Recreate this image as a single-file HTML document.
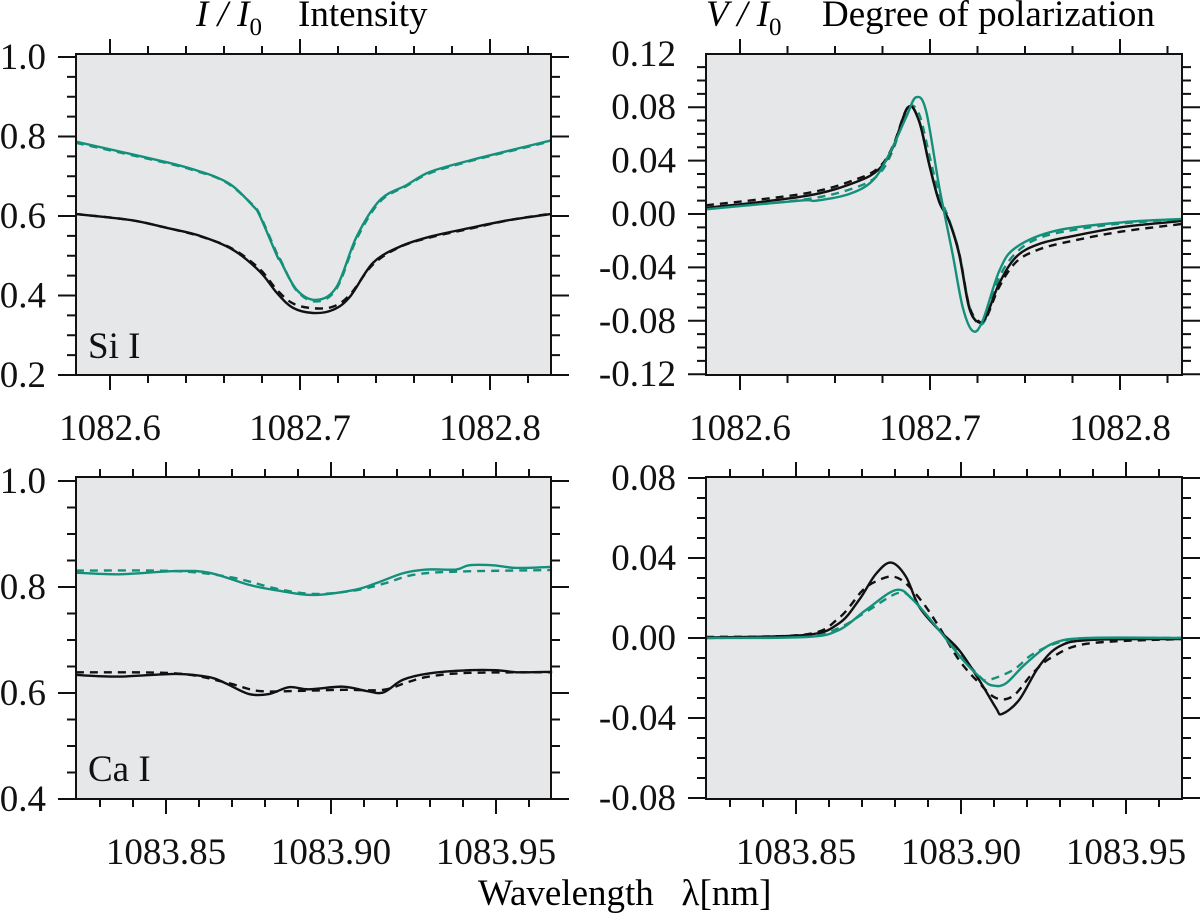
<!DOCTYPE html>
<html><head><meta charset="utf-8"><style>
html,body{margin:0;padding:0;background:#fff;}
svg, svg text{font-family:"Liberation Serif","Times New Roman",serif;}
</style></head><body>
<svg id="fig" width="1200" height="913" viewBox="0 0 1200 913" xmlns="http://www.w3.org/2000/svg" font-family="Liberation Serif, serif">
<text x="196" y="26" font-size="37" font-family="Liberation Serif, serif" font-style="italic">I / I<tspan font-size="25" dy="9" font-style="normal">0</tspan></text>
<text x="298" y="26" font-size="37" font-family="Liberation Serif, serif">Intensity</text>
<text x="706" y="26" font-size="37" font-family="Liberation Serif, serif" font-style="italic">V / I<tspan font-size="25" dy="9" font-style="normal">0</tspan></text>
<text x="822" y="26" font-size="37" font-family="Liberation Serif, serif">Degree of polarization</text>
<text x="478" y="905" font-size="37" font-family="Liberation Serif, serif" xml:space="preserve">Wavelength   λ[nm]</text>
<g id="plots"></g>
</svg>
<script>
// ---- Si I intensity (top-left) ----
const siI_wl_green = [1082.5821,1082.6300,1082.6474,1082.6563,1082.6647,1082.6753,1082.6789,1082.6879,1082.6895,1082.6983,1082.7088,1082.7193,1082.7298,1082.7421,1082.7562,1082.7684,1082.7895,1082.8105,1082.8321];
const siI_obs_green = [0.787,0.735,0.712,0.697,0.675,0.625,0.600,0.500,0.489,0.414,0.389,0.422,0.548,0.640,0.678,0.711,0.740,0.765,0.790];
const siI_fit_green = [0.784,0.733,0.710,0.696,0.673,0.627,0.603,0.505,0.492,0.412,0.385,0.418,0.542,0.636,0.676,0.708,0.738,0.763,0.788];
const siI_wl_black = [1082.5821,1082.6105,1082.6300,1082.6474,1082.6647,1082.6789,1082.6879,1082.6963,1082.7068,1082.7174,1082.7263,1082.7384,1082.7526,1082.7684,1082.7895,1082.8105,1082.8321];
const siI_obs_black = [0.605,0.590,0.570,0.550,0.515,0.460,0.406,0.369,0.356,0.364,0.397,0.482,0.523,0.548,0.570,0.590,0.605];
const siI_fit_black = [0.605,0.590,0.570,0.549,0.517,0.466,0.414,0.380,0.368,0.372,0.402,0.478,0.522,0.546,0.568,0.590,0.606];
// ---- Si I polarization (top-right) ----
const siV_wl_black = [1082.5821,1082.6347,1082.6611,1082.6732,1082.6805,1082.6884,1082.6942,1082.6995,1082.7047,1082.7100,1082.7153,1082.7205,1082.7253,1082.7295,1082.7363,1082.7453,1082.7574,1082.7753,1082.8016,1082.8326];
const siV_obs_black = [0.0045,0.0135,0.024,0.0337,0.050,0.080,0.0697,0.0375,0.0097,-0.0052,-0.030,-0.0697,-0.081,-0.077,-0.0524,-0.0322,-0.0225,-0.0165,-0.0097,-0.0052];
const siV_fit_black = [0.0065,0.0155,0.026,0.035,0.051,0.080,0.070,0.038,0.010,-0.005,-0.029,-0.068,-0.080,-0.078,-0.055,-0.036,-0.0265,-0.020,-0.013,-0.0075];
const siV_fit_green = [0.004,0.011,0.020,0.030,0.048,0.079,0.075,0.045,0.015,-0.004,-0.029,-0.068,-0.082,-0.078,-0.048,-0.029,-0.018,-0.012,-0.007,-0.004];
const siV_wl_green = [1082.5821,1082.6312,1082.6400,1082.6575,1082.6698,1082.6786,1082.6874,1082.6926,1082.6979,1082.7049,1082.7119,1082.7172,1082.7225,1082.7277,1082.7365,1082.7453,1082.7663,1082.8014,1082.8326];
const siV_obs_green = [0.0035,0.010,0.010,0.015,0.025,0.045,0.0724,0.0874,0.0774,0.020,-0.030,-0.0697,-0.0876,-0.080,-0.0425,-0.025,-0.0125,-0.0062,-0.0037];
// ---- Ca I intensity (bottom-left) ----
const caI_wl_gobs = [1083.8227,1083.8358,1083.8530,1083.8630,1083.8752,1083.8833,1083.8945,1083.9067,1083.9136,1083.9218,1083.9288,1083.9379,1083.9418,1083.9491,1083.9561,1083.9670];
const caI_obs_green = [0.827,0.824,0.830,0.827,0.804,0.794,0.785,0.794,0.807,0.826,0.833,0.833,0.841,0.841,0.836,0.838];
const caI_wl_gfit = [1083.8227,1083.8530,1083.8700,1083.8833,1083.8945,1083.9067,1083.9158,1083.9250,1083.9379,1083.9670];
const caI_fit_green = [0.831,0.830,0.818,0.797,0.787,0.793,0.806,0.823,0.829,0.832];
const caI_wl_bobs = [1083.8227,1083.8358,1083.8530,1083.8630,1083.8682,1083.8752,1083.8812,1083.8873,1083.8933,1083.9036,1083.9106,1083.9158,1083.9218,1083.9297,1083.9418,1083.9500,1083.9570,1083.9670];
const caI_obs_black = [0.634,0.631,0.636,0.630,0.618,0.598,0.598,0.611,0.607,0.612,0.604,0.601,0.625,0.637,0.643,0.643,0.639,0.640];
const caI_wl_bfit = [1083.8227,1083.8530,1083.8680,1083.8780,1083.8900,1083.9036,1083.9158,1083.9230,1083.9297,1083.9418,1083.9670];
const caI_fit_black = [0.639,0.637,0.620,0.604,0.604,0.606,0.606,0.620,0.631,0.638,0.639];
// ---- Ca I polarization (bottom-right) ----
const caV_wl_bobs = [1083.8227,1083.8530,1083.8630,1083.8691,1083.8742,1083.8788,1083.8833,1083.8873,1083.8933,1083.8994,1083.9055,1083.9106,1083.9124,1083.9176,1083.9236,1083.9297,1083.9388,1083.9670];
const caV_obs_black = [0.0003,0.0015,0.0073,0.019,0.032,0.0377,0.0307,0.0157,0.004,-0.006,-0.021,-0.035,-0.038,-0.031,-0.0143,-0.0043,-0.001,-0.0005];
const caV_wl_bfit = [1083.8227,1083.8530,1083.8630,1083.8703,1083.8752,1083.8794,1083.8833,1083.8885,1083.8933,1083.8994,1083.9055,1083.9106,1083.9158,1083.9218,1083.9279,1083.9388,1083.9670];
const caV_fit_black = [0.0005,0.0018,0.010,0.024,0.029,0.0307,0.0273,0.0175,0.0057,-0.011,-0.0225,-0.030,-0.029,-0.0175,-0.0093,-0.0027,-0.0005];
const caV_wl_gobs = [1083.8227,1083.8530,1083.8630,1083.8712,1083.8803,1083.8855,1083.8933,1083.9006,1083.9067,1083.9097,1083.9136,1083.9197,1083.9279,1083.9388,1083.9670];
const caV_obs_green = [0,0.0005,0.004,0.014,0.024,0.019,0.004,-0.011,-0.021,-0.0238,-0.0227,-0.0127,-0.0027,0,0];
const caV_wl_gfit = [1083.8227,1083.8530,1083.8630,1083.8712,1083.8809,1083.8855,1083.8933,1083.9006,1083.9055,1083.9082,1083.9158,1083.9218,1083.9300,1083.9388,1083.9670];
const caV_fit_green = [0,0.0008,0.005,0.013,0.0225,0.019,0.004,-0.010,-0.019,-0.021,-0.016,-0.008,-0.002,0,0];
// tick labels
const topXTicks = [1082.6,1082.7,1082.8];
const botXTicks = [1083.85,1083.90,1083.95];
const intTicksTop = [0.2,0.4,0.6,0.8,1.0];
const intTicksBot = [0.4,0.6,0.8,1.0];
const siVTicks = [-0.12,-0.08,-0.04,0.00,0.04,0.08,0.12];
const caVTicks = [-0.08,-0.04,0.00,0.04,0.08];

const NS = "http://www.w3.org/2000/svg";
const root = document.getElementById('plots');
const GREEN = "#14907a";
const FONT = "Liberation Serif, serif";
function mk(tag, attrs, parent){const e=document.createElementNS(NS,tag);for(const k in attrs)e.setAttribute(k,attrs[k]);(parent||root).appendChild(e);return e;}

function panel(name, box, xr, yr, xMinor, yMinor, xT, yT, xFmt, yFmt){
  const g = mk('g',{});
  
  
  const bg = mk('rect',{x:box[0],y:box[1],width:box[2]-box[0],height:box[3]-box[1],fill:'#e6e7e9'},g);
  
  
  const X = v => xr.p0 + (v - xr.v0) * xr.s;
  const Y = v => yr.p0 - (v - yr.v0) * yr.s;
  let d = '';
  const xstep = xT[1]-xT[0];
  const xlo = xr.v0 + (box[0]-xr.p0)/xr.s, xhi = xr.v0 + (box[2]-xr.p0)/xr.s;
  for (let k = Math.ceil(xlo/xMinor-1e-6); k*xMinor <= xhi+1e-9; k++){
    const v = k*xMinor, px = X(v);
    const major = Math.abs(Math.round(v/xstep)*xstep - v) < 1e-6;
    const L = major ? 15 : 8;
    d += `M${px},${box[3]}v${L}M${px},${box[1]}v${-L}`;
  }
  const ylo = yr.v0 + (yr.p0-box[3])/yr.s, yhi = yr.v0 + (yr.p0-box[1])/yr.s;
  const ystep = yT[1]-yT[0];
  for (let k = Math.ceil(ylo/yMinor-1e-6); k*yMinor <= yhi+1e-9; k++){
    const v = k*yMinor, py = Y(v);
    const major = Math.abs(Math.round(v/ystep)*ystep - v) < 1e-6;
    const L = major ? 18 : 9;
    d += `M${box[0]},${py}h${-L}M${box[2]},${py}h${L}`;
  }
  const tk = mk('path',{d:d,stroke:'#111','stroke-width':2,fill:'none'},g);
  
  
  xT.forEach(v => {
    const t = mk('text',{x:X(v),y:box[3]+65,'font-size':37,'font-family':FONT,'text-anchor':'middle',fill:'#111'},g);
    t.textContent = xFmt(v);
    
    
  });
  yT.forEach(v => {
    const t = mk('text',{x:box[0]-30,y:Y(v)+12,'font-size':37,'font-family':FONT,'text-anchor':'end',fill:'#111'},g);
    t.textContent = yFmt(v);
    
    
  });
  return {g, X, Y, box};
}

function curve(P, wl, vals, color, dashed, name){
  const pts = wl.map((w,i)=>[P.X(w), P.Y(vals[i])]);
  let d = `M${pts[0][0].toFixed(2)},${pts[0][1].toFixed(2)}`;
  for (let i=0;i<pts.length-1;i++){
    const p0=pts[Math.max(0,i-1)], p1=pts[i], p2=pts[i+1], p3=pts[Math.min(pts.length-1,i+2)];
    const c1=[p1[0]+(p2[0]-p0[0])/6, p1[1]+(p2[1]-p0[1])/6];
    const c2=[p2[0]-(p3[0]-p1[0])/6, p2[1]-(p3[1]-p1[1])/6];
    d += `C${c1[0].toFixed(2)},${c1[1].toFixed(2)} ${c2[0].toFixed(2)},${c2[1].toFixed(2)} ${p2[0].toFixed(2)},${p2[1].toFixed(2)}`;
  }
  const a = {d:d, fill:'none', stroke:color, 'stroke-width':2.4, 'stroke-linejoin':'round'};
  if (dashed) a['stroke-dasharray'] = '8 6';
  const e = mk('path', a, P.g);
  
  
}
function frame(P, name){
  const b=P.box;
  const e = mk('rect',{x:b[0],y:b[1],width:b[2]-b[0],height:b[3]-b[1],fill:'none',stroke:'#111','stroke-width':2},P.g);
  
  
}
const f1 = v => v.toFixed(1), f2 = v => v.toFixed(2);

const TL = panel('si-intensity-panel',[76,54,551,375],{p0:110,v0:1082.6,s:1900},{p0:57,v0:1.0,s:397.5},0.02,0.05,topXTicks,intTicksTop,f1,f1);
curve(TL, siI_wl_green, siI_fit_green, GREEN, true, 'si-intensity-green-fit');
curve(TL, siI_wl_green, siI_obs_green, GREEN, false, 'si-intensity-green-observed');
curve(TL, siI_wl_black, siI_fit_black, '#111', true, 'si-intensity-black-fit');
curve(TL, siI_wl_black, siI_obs_black, '#111', false, 'si-intensity-black-observed');
frame(TL,'si-intensity');
let lab = mk('text',{x:88,y:358,'font-size':37,'font-family':FONT,fill:'#111'},TL.g); lab.textContent='Si I';



const TR = panel('si-polarization-panel',[706,54,1182,375],{p0:740,v0:1082.6,s:1900},{p0:214,v0:0,s:1335},0.025,0.01,topXTicks,siVTicks,f1,f2);
curve(TR, siV_wl_black, siV_fit_black, '#111', true, 'si-polarization-black-fit');
curve(TR, siV_wl_black, siV_fit_green, GREEN, true, 'si-polarization-green-fit');
curve(TR, siV_wl_black, siV_obs_black, '#111', false, 'si-polarization-black-observed');
curve(TR, siV_wl_green, siV_obs_green, GREEN, false, 'si-polarization-green-observed');
frame(TR,'si-polarization');

const BL = panel('ca-intensity-panel',[76,477,551,799],{p0:166,v0:1083.85,s:3300},{p0:481,v0:1.0,s:530},0.01,0.05,botXTicks,intTicksBot,f2,f1);
curve(BL, caI_wl_gfit, caI_fit_green, GREEN, true, 'ca-intensity-green-fit');
curve(BL, caI_wl_gobs, caI_obs_green, GREEN, false, 'ca-intensity-green-observed');
curve(BL, caI_wl_bfit, caI_fit_black, '#111', true, 'ca-intensity-black-fit');
curve(BL, caI_wl_bobs, caI_obs_black, '#111', false, 'ca-intensity-black-observed');
frame(BL,'ca-intensity');
lab = mk('text',{x:88,y:781,'font-size':37,'font-family':FONT,fill:'#111'},BL.g); lab.textContent='Ca I';



const BR = panel('ca-polarization-panel',[706,477,1182,799],{p0:796,v0:1083.85,s:3300},{p0:638,v0:0,s:2000},0.01,0.01,botXTicks,caVTicks,f2,f2);
curve(BR, caV_wl_bfit, caV_fit_black, '#111', true, 'ca-polarization-black-fit');
curve(BR, caV_wl_gfit, caV_fit_green, GREEN, true, 'ca-polarization-green-fit');
curve(BR, caV_wl_bobs, caV_obs_black, '#111', false, 'ca-polarization-black-observed');
curve(BR, caV_wl_gobs, caV_obs_green, GREEN, false, 'ca-polarization-green-observed');
frame(BR,'ca-polarization');
</script>
</body></html>
